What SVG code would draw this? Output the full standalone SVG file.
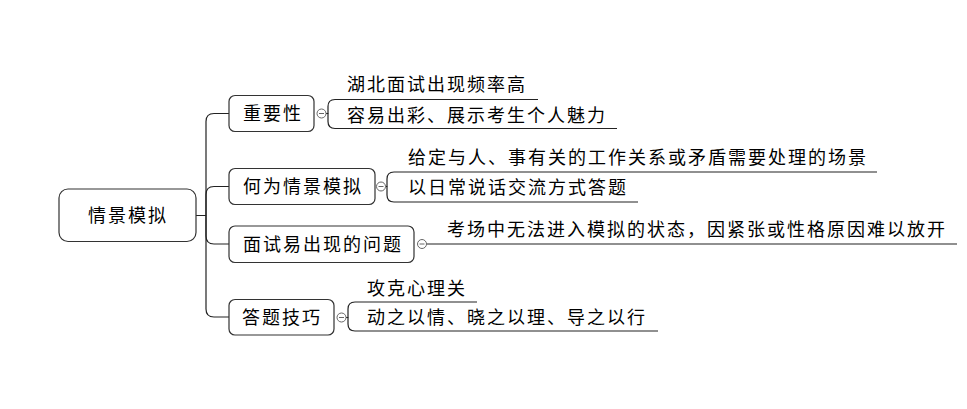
<svg xmlns="http://www.w3.org/2000/svg" width="967" height="409" viewBox="0 0 967 409">
<style>
  .box{fill:#fff;stroke:#333;stroke-width:1.2}
  .ln{fill:none;stroke:#222;stroke-width:1.2}
  .t{font-family:"Noto Sans CJK SC","Noto Sans CJK JP",sans-serif;font-size:18px;letter-spacing:2px;fill:#000}
  .cc{fill:#fff;stroke:#666;stroke-width:1}
  .mn{stroke:#666;stroke-width:1}
</style>
<rect width="967" height="409" fill="#fff"/>
<g id="connectors">
  <path class="ln" d="M196,215.5 H206 V121.5 Q206,113.5 214,113.5 H229"/>
  <path class="ln" d="M206,215.5 V194.5 Q206,186.5 214,186.5 H229"/>
  <path class="ln" d="M206,215.5 V236 Q206,244 214,244 H229"/>
  <path class="ln" d="M206,215.5 V309 Q206,317 214,317 H229"/>
  <path class="ln" d="M326,113.5 H328 V106.5 Q328,99.5 335,99.5 H538"/>
  <path class="ln" d="M328,113.5 V121.5 Q328,128.5 335,128.5 H617"/>
  <path class="ln" d="M385.5,186.5 H387 V179 Q387,172 394,172 H877"/>
  <path class="ln" d="M387,186.5 V195 Q387,202 394,202 H638"/>
  <path class="ln" d="M426.5,244 H957"/>
  <path class="ln" d="M346,317.5 H348 V309 Q348,302 355,302 H477"/>
  <path class="ln" d="M348,317.5 V324 Q348,331 355,331 H658"/>
</g>
<g id="root">
  <rect class="box" x="59" y="189" width="137" height="52.5" rx="9"/>
  <text class="t" x="88" y="222">情景模拟</text>
</g>
<g id="n-zhongyao">
  <rect class="box" x="229" y="95.5" width="85" height="36" rx="6"/>
  <text class="t" x="243" y="120">重要性</text>
  <circle class="cc" cx="321.5" cy="113.5" r="4.5"/>
  <line class="mn" x1="319" y1="113.5" x2="324" y2="113.5"/>
</g>
<g id="n-zhongyao-1"><text class="t" x="347" y="90.5">湖北面试出现频率高</text></g>
<g id="n-zhongyao-2"><text class="t" x="347" y="121.5">容易出彩、展示考生个人魅力</text></g>
<g id="n-hewei">
  <rect class="box" x="229" y="168.5" width="146" height="36" rx="6"/>
  <text class="t" x="243" y="193">何为情景模拟</text>
  <circle class="cc" cx="381" cy="186.5" r="4.5"/>
  <line class="mn" x1="378.5" y1="186.5" x2="383.5" y2="186.5"/>
</g>
<g id="n-hewei-1"><text class="t" x="408" y="163.5">给定与人、事有关的工作关系或矛盾需要处理的场景</text></g>
<g id="n-hewei-2"><text class="t" x="408" y="193.5">以日常说话交流方式答题</text></g>
<g id="n-mianshi">
  <rect class="box" x="229" y="226" width="185" height="36.5" rx="6"/>
  <text class="t" x="243" y="250.5">面试易出现的问题</text>
  <circle class="cc" cx="422" cy="244" r="4.5"/>
  <line class="mn" x1="419.5" y1="244" x2="424.5" y2="244"/>
</g>
<g id="n-mianshi-1"><text class="t" x="447" y="235.5">考场中无法进入模拟的状态，因紧张或性格原因难以放开</text></g>
<g id="n-dati">
  <rect class="box" x="229" y="299.5" width="105" height="35.5" rx="6"/>
  <text class="t" x="242" y="323.5">答题技巧</text>
  <circle class="cc" cx="341.5" cy="317.5" r="4.5"/>
  <line class="mn" x1="339" y1="317.5" x2="344" y2="317.5"/>
</g>
<g id="n-dati-1"><text class="t" x="367" y="294.5">攻克心理关</text></g>
<g id="n-dati-2"><text class="t" x="367" y="323.5">动之以情、晓之以理、导之以行</text></g>
</svg>
